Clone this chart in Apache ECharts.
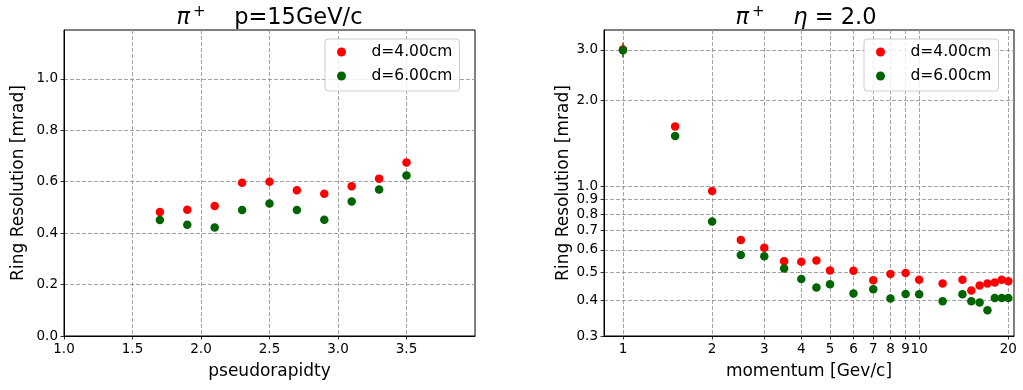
<!DOCTYPE html>
<html>
<head>
<meta charset="utf-8">
<script src="https://cdn.jsdelivr.net/npm/echarts@6/dist/echarts.min.js"></script>
<style>
  html, body { margin: 0; padding: 0; background: #fff; }
  #chart { width: 1023px; height: 390px; }
</style>
</head>
<body>
<div id="chart"></div>
<script>
// left panel: resolution vs pseudorapidity at p = 15 GeV/c
var etaVals = [1.7, 1.9, 2.1, 2.3, 2.5, 2.7, 2.9, 3.1, 3.3, 3.5];
var res4Eta = [0.482, 0.491, 0.506, 0.596, 0.600, 0.567, 0.553, 0.582, 0.612, 0.675];
var res6Eta = [0.451, 0.433, 0.422, 0.490, 0.515, 0.490, 0.452, 0.523, 0.570, 0.624];

// right panel: resolution vs momentum at eta = 2.0
var momVals = [1, 1.5, 2, 2.5, 3, 3.5, 4, 4.5, 5, 6, 7, 8, 9, 10, 12, 14, 15, 16, 17, 18, 19, 20];
var res4Mom = [3.01, 1.62, 0.963, 0.650, 0.610, 0.548, 0.545, 0.551, 0.508, 0.507, 0.470, 0.494,
               0.498, 0.472, 0.458, 0.472, 0.433, 0.450, 0.458, 0.461, 0.472, 0.466];
var res6Mom = [2.99, 1.50, 0.754, 0.576, 0.570, 0.516, 0.475, 0.443, 0.455, 0.422, 0.437, 0.406,
               0.421, 0.420, 0.397, 0.420, 0.397, 0.393, 0.369, 0.407, 0.407, 0.407];
// error bar at p = 1 (the only one larger than the marker)
var errP = [1];
var err4Lo = [2.84], err4Hi = [3.18];
var err6Lo = [2.82], err6Hi = [3.15];

// tick labels
var etaTicks = [1.0, 1.5, 2.0, 2.5, 3.0, 3.5];
var resEtaTicks = [0.0, 0.2, 0.4, 0.6, 0.8, 1.0];
var momTicks = [1, 2, 3, 4, 5, 6, 7, 8, 9, 10, 20];
var resMomTicks = [0.3, 0.4, 0.5, 0.6, 0.7, 0.8, 0.9, 1.0, 2.0, 3.0];

var names = ['d=4.00cm', 'd=6.00cm'];
var colors = ['#ff0000', '#006400'];

function pairs(xs, ys) {
  return xs.map(function (x, i) { return [x, ys[i]]; });
}

var FONT = 'DejaVu Sans';
var gridLine = { show: true, lineStyle: { color: '#8c8c8c', width: 0.8, type: [4, 2] } };
var axisLine = { show: true, lineStyle: { color: '#000', width: 1 } };
var tick = function (vals) {
  return { show: true, inside: false, length: 3.5, customValues: vals, lineStyle: { color: '#000', width: 0.8 } };
};
var label = function (vals, fmt) {
  return { customValues: vals, fontSize: 13.5, color: '#000', fontFamily: FONT, margin: 6, formatter: fmt };
};
var fix1 = function (v) { return Number(v).toFixed(1); };
var plain = function (v) { return String(Math.round(v)); };
var nameStyle = { fontSize: 17, color: '#000', fontFamily: FONT };

function legendAt(left) {
  return {
    left: left, top: 39, orient: 'vertical',
    data: names,
    icon: 'circle', itemWidth: 20, itemHeight: 9, itemGap: 8,
    padding: [5, 7, 7, 12],
    backgroundColor: 'rgba(255,255,255,0.8)',
    borderColor: '#cccccc', borderWidth: 1, borderRadius: 3,
    textStyle: { fontSize: 15.5, fontFamily: FONT, color: '#000', padding: [0, 0, 0, 15] }
  };
}

function errSeries(color, xs, lo, hi) {
  return {
    type: 'custom', xAxisIndex: 1, yAxisIndex: 1, silent: true, z: 1,
    data: xs.map(function (x, i) { return [x, lo[i], hi[i]]; }),
    renderItem: function (params, api) {
      var a = api.coord([api.value(0), api.value(1)]);
      var b = api.coord([api.value(0), api.value(2)]);
      return { type: 'line', shape: { x1: a[0], y1: a[1], x2: b[0], y2: b[1] },
               style: { stroke: color, lineWidth: 1.5 } };
    }
  };
}

var titleRich = {
  pi: { fontSize: 22.5, fontStyle: 'italic', fontWeight: 'normal', fontFamily: FONT, color: '#000' },
  sup: { fontSize: 15, fontWeight: 'normal', fontFamily: FONT, color: '#000', padding: [0, 0, 12, 3] },
  n: { fontSize: 22.5, fontWeight: 'normal', fontFamily: FONT, color: '#000' }
};

var chart = echarts.init(document.getElementById('chart'));
chart.setOption({
  animation: false,
  textStyle: { fontFamily: FONT },
  title: [
    {
      left: 269.5, top: 5, textAlign: 'center', padding: 0,
      text: '{pi|π}{sup|+}{n|    p=15GeV/c}',
      textStyle: { fontWeight: 'normal', rich: titleRich }
    },
    {
      left: 806, top: 5, textAlign: 'center', padding: 0,
      text: '{pi|π}{sup|+}{n|    }{pi|η}{n| = 2.0}',
      textStyle: { fontWeight: 'normal', rich: titleRich }
    }
  ],
  legend: [legendAt(325), legendAt(864)],
  grid: [
    { left: 64, top: 30, width: 411, height: 306, show: true, borderColor: '#000', borderWidth: 1, backgroundColor: '#fff' },
    { left: 604, top: 30, width: 410, height: 306, show: true, borderColor: '#000', borderWidth: 1, backgroundColor: '#fff' }
  ],
  xAxis: [
    {
      type: 'value', gridIndex: 0, min: 1.0, max: 4.0,
      axisLine: axisLine, axisTick: tick(etaTicks), axisLabel: label(etaTicks, fix1),
      splitLine: gridLine,
      name: 'pseudorapidty', nameLocation: 'middle', nameGap: 27, nameTextStyle: nameStyle
    },
    {
      type: 'log', logBase: 10, gridIndex: 1, min: 0.863, max: 20.9,
      axisLine: axisLine, axisTick: tick(momTicks), axisLabel: label(momTicks, plain),
      splitLine: gridLine, minorTick: { show: false }, minorSplitLine: { show: false },
      name: 'momentum [Gev/c]', nameLocation: 'middle', nameGap: 27, nameTextStyle: nameStyle
    }
  ],
  yAxis: [
    {
      type: 'value', gridIndex: 0, min: 0, max: 1.19,
      axisLine: axisLine, axisTick: tick(resEtaTicks), axisLabel: label(resEtaTicks, fix1),
      splitLine: gridLine,
      name: 'Ring Resolution [mrad]', nameLocation: 'middle', nameGap: 37, nameTextStyle: nameStyle
    },
    {
      type: 'log', logBase: 10, gridIndex: 1, min: 0.3, max: 3.52,
      axisLine: axisLine, axisTick: tick(resMomTicks), axisLabel: label(resMomTicks, fix1),
      splitLine: gridLine, minorTick: { show: false }, minorSplitLine: { show: false },
      name: 'Ring Resolution [mrad]', nameLocation: 'middle', nameGap: 32, nameTextStyle: nameStyle
    }
  ],
  series: [
    { name: names[0], type: 'scatter', xAxisIndex: 0, yAxisIndex: 0, symbolSize: 8.5,
      itemStyle: { color: colors[0], opacity: 1 }, data: pairs(etaVals, res4Eta), z: 3 },
    { name: names[1], type: 'scatter', xAxisIndex: 0, yAxisIndex: 0, symbolSize: 8.5,
      itemStyle: { color: colors[1], opacity: 1 }, data: pairs(etaVals, res6Eta), z: 4 },
    errSeries('#d33a1a', errP, err4Lo, err4Hi),
    errSeries('#3a7a1a', errP, err6Lo, err6Hi),
    { name: names[0], type: 'scatter', xAxisIndex: 1, yAxisIndex: 1, symbolSize: 8.5,
      itemStyle: { color: colors[0], opacity: 1 }, data: pairs(momVals, res4Mom), z: 3 },
    { name: names[1], type: 'scatter', xAxisIndex: 1, yAxisIndex: 1, symbolSize: 8.5,
      itemStyle: { color: colors[1], opacity: 1 }, data: pairs(momVals, res6Mom), z: 4 }
  ]
});
</script>
</body>
</html>
